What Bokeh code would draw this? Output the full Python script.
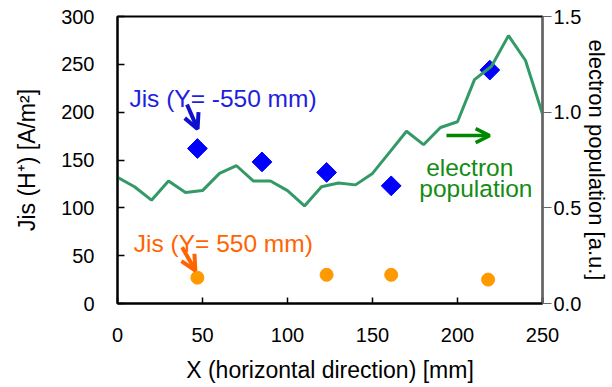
import math
from bokeh.plotting import figure
from bokeh.models import Range1d, LinearAxis, FixedTicker, Label, Arrow, OpenHead, NumeralTickFormatter
from bokeh.embed import file_html
from bokeh.resources import INLINE

# ---- data ----
x_line = [0, 10, 20, 30, 40, 50, 60, 70, 80, 90, 100, 110, 120,
          130, 140, 150, 160, 170, 180, 190, 200, 210, 220, 230, 240, 250]
electron_population = [0.66, 0.61, 0.54, 0.64, 0.58, 0.59, 0.68, 0.72, 0.64, 0.64,
                       0.59, 0.51, 0.61, 0.63, 0.62, 0.68, 0.79, 0.90, 0.83, 0.92,
                       0.95, 1.17, 1.24, 1.40, 1.27, 0.99]
jis_minus_x = [47, 85, 123, 161, 219]
jis_minus = [162, 148, 137, 123, 244]
jis_plus_x = [47, 123, 161, 218]
jis_plus = [27, 30, 30, 25]
x_ticks = [0, 50, 100, 150, 200, 250]
y_ticks = [0, 50, 100, 150, 200, 250, 300]
ep_ticks = [0.0, 0.5, 1.0, 1.5]

TICK_FONT = "Liberation Sans"
LABEL_FONT = "Liberation Sans"
BLUE = "#0000ff"
BLUE_TXT = "#1e1ee0"
ORANGE = "#ff9900"
ORANGE_TXT = "#ff6400"
LINE_GREEN = "#339966"
TXT_GREEN = "#148c14"

p = figure(width=612, height=387, output_backend="svg", toolbar_location=None,
           x_range=Range1d(0, 250), y_range=Range1d(0, 300),
           min_border_left=117, min_border_right=69, min_border_top=16, min_border_bottom=84)
p.extra_y_ranges = {"ep": Range1d(0, 1.5)}
p.xgrid.visible = False
p.ygrid.visible = False
p.outline_line_color = "black"
p.outline_line_width = 2
p.background_fill_color = "white"
p.border_fill_color = "white"

# left axis
ya = p.yaxis[0]
ya.ticker = FixedTicker(ticks=y_ticks)
ya.major_tick_in = 7
ya.major_tick_out = 0
ya.minor_tick_line_color = None
ya.axis_line_width = 2
ya.major_tick_line_width = 1.5
ya.major_label_text_font = TICK_FONT
ya.major_label_text_font_size = "20px"
ya.major_label_text_color = "black"
ya.major_label_standoff = 23
ya.axis_label = "Jis (H\u207a) [A/m\u00b2]"
ya.axis_label_text_font = LABEL_FONT
ya.axis_label_text_font_size = "23px"
ya.axis_label_text_font_style = "normal"
ya.axis_label_text_color = "black"
ya.axis_label_standoff = 18

# bottom axis
xa = p.xaxis[0]
xa.ticker = FixedTicker(ticks=x_ticks)
xa.major_tick_in = 6
xa.major_tick_out = 0
xa.minor_tick_line_color = None
xa.axis_line_width = 2
xa.major_tick_line_width = 1.5
xa.major_label_text_font = TICK_FONT
xa.major_label_text_font_size = "20px"
xa.major_label_text_color = "black"
xa.major_label_standoff = 24
xa.axis_label = "X (horizontal direction) [mm]"
xa.axis_label_text_font = LABEL_FONT
xa.axis_label_text_font_size = "23px"
xa.axis_label_text_font_style = "normal"
xa.axis_label_text_color = "black"
xa.axis_label_standoff = 12

# right axis
ra = LinearAxis(y_range_name="ep", ticker=FixedTicker(ticks=ep_ticks),
                formatter=NumeralTickFormatter(format="0.0"))
ra.major_tick_in = 0
ra.major_tick_out = 9
ra.minor_tick_line_color = None
ra.axis_line_color = "#666666"
ra.axis_line_width = 1.5
ra.major_tick_line_color = "#666666"
ra.major_label_text_font = TICK_FONT
ra.major_label_text_font_size = "20px"
ra.major_label_text_color = "black"
ra.major_label_standoff = 2
ra.axis_label = "electron population [a.u.]"
ra.axis_label_text_font = LABEL_FONT
ra.axis_label_text_font_size = "22px"
ra.axis_label_text_font_style = "normal"
ra.axis_label_text_color = "black"
ra.axis_label_standoff = 0
p.add_layout(ra, "right")

# data marks
p.scatter(jis_minus_x, jis_minus, marker="square", size=14, angle=math.pi / 4,
          fill_color=BLUE, line_color=BLUE)
p.scatter(jis_plus_x, jis_plus, marker="circle", size=13,
          fill_color=ORANGE, line_color=ORANGE)
p.line(x_line, electron_population, y_range_name="ep", line_color=LINE_GREEN, line_width=3)

# annotations
p.add_layout(Label(x=7.0, y=214, text="Jis (Y= -550 mm)", text_font=LABEL_FONT,
                   text_font_size="24.5px", text_color=BLUE_TXT, text_baseline="alphabetic"))
p.add_layout(Arrow(x_start=40.9, y_start=208, x_end=47.1, y_end=182.5,
                   line_color="#1010d0", line_width=4,
                   end=OpenHead(size=15, line_color="#1010d0", line_width=4)))
p.add_layout(Label(x=9.6, y=62.4, text="Jis (Y= 550 mm)", text_font=LABEL_FONT,
                   text_font_size="24.5px", text_color=ORANGE_TXT, text_baseline="alphabetic"))
p.add_layout(Arrow(x_start=38.0, y_start=58.8, x_end=45.8, y_end=34.5,
                   line_color=ORANGE_TXT, line_width=4,
                   end=OpenHead(size=15, line_color=ORANGE_TXT, line_width=4)))
p.add_layout(Label(x=207.2, y=142.4, text="electron", text_font=LABEL_FONT,
                   text_font_size="24.5px", text_color=TXT_GREEN, text_align="center",
                   text_baseline="alphabetic"))
p.add_layout(Label(x=210.8, y=120.2, text="population", text_font=LABEL_FONT,
                   text_font_size="24.5px", text_color=TXT_GREEN, text_align="center",
                   text_baseline="alphabetic"))
p.add_layout(Arrow(x_start=193.5, y_start=175.5, x_end=218.9, y_end=175.5,
                   line_color="#008800", line_width=3.5,
                   end=OpenHead(size=14, line_color="#008800", line_width=3.5)))

open("out.html", "w").write(file_html(p, INLINE))
